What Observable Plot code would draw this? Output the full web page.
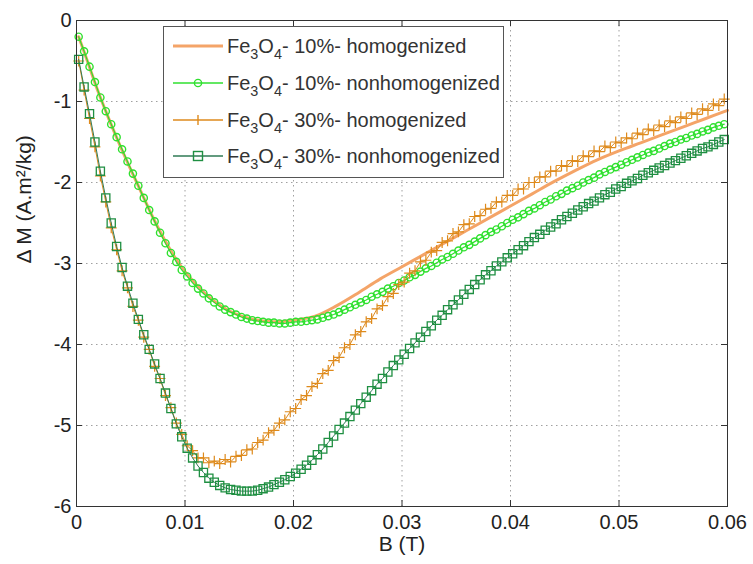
<!DOCTYPE html>
<html><head><meta charset="utf-8">
<script src="https://cdn.jsdelivr.net/npm/d3@7"></script>
<script src="https://cdn.jsdelivr.net/npm/@observablehq/plot@0.6"></script>
<style>
body{margin:0;background:#fff;}
#wrap{position:relative;width:753px;height:564px;font-family:"Liberation Sans",Arial,sans-serif;}
#legend{position:absolute;left:163px;top:26px;width:339px;height:150px;border:1px solid #555;background:#fff;}
.row{position:absolute;left:7px;height:24px;display:flex;align-items:center;}
.row svg{display:block;}
.lab{font-size:20px;color:#333;margin-left:2px;white-space:nowrap;line-height:24px;}
.lab sub{font-size:0.72em;vertical-align:-0.45em;line-height:0;}
</style></head><body><div id="wrap"></div>
<script>
// ---- data ----
const xTicks = [0, 0.01, 0.02, 0.03, 0.04, 0.05, 0.06];
const yTicks = [0, -1, -2, -3, -4, -5, -6];
const xLabel = "B (T)";
const yLabel = "\u0394 M (A.m\u00B2/kg)";
const seriesNames = ["10%- homogenized", "10%- nonhomogenized", "30%- homogenized", "30%- nonhomogenized"];

// sampled field values for the three marker series (0.0002 T + 0.0005 T steps)
const B = d3.range(120).map(i => +(0.0002 + 0.0005 * i).toFixed(4));

// Fe3O4 10% homogenized (line only)
const hom10B = [0.0002,0.001,0.002,0.003,0.004,0.005,0.006,0.007,0.008,0.009,0.010,
  0.012,0.014,0.016,0.018,0.020,0.022,0.024,0.026,0.028,0.030,
  0.032,0.034,0.036,0.038,0.040,0.042,0.044,0.046,0.048,0.050,
  0.052,0.054,0.056,0.058,0.060];
const hom10M = [-0.20,-0.50,-0.88,-1.22,-1.54,-1.84,-2.13,-2.42,-2.68,-2.91,-3.10,
  -3.39,-3.58,-3.68,-3.72,-3.70,-3.65,-3.52,-3.36,-3.19,-3.04,
  -2.89,-2.74,-2.59,-2.44,-2.29,-2.14,-1.99,-1.85,-1.72,-1.61,
  -1.51,-1.41,-1.31,-1.21,-1.11];

// Fe3O4 10% nonhomogenized (circles)
const non10M = [
  -0.20,-0.38,-0.57,-0.76,-0.95,-1.12,-1.28,-1.44,-1.59,-1.74,
  -1.89,-2.04,-2.19,-2.34,-2.48,-2.62,-2.75,-2.87,-2.98,-3.08,
  -3.16,-3.24,-3.31,-3.37,-3.43,-3.48,-3.53,-3.57,-3.60,-3.63,
  -3.66,-3.68,-3.70,-3.71,-3.72,-3.73,-3.73,-3.74,-3.74,-3.73,
  -3.72,-3.72,-3.71,-3.70,-3.69,-3.67,-3.65,-3.63,-3.60,-3.57,
  -3.54,-3.51,-3.48,-3.45,-3.41,-3.38,-3.35,-3.31,-3.28,-3.24,
  -3.21,-3.17,-3.14,-3.10,-3.06,-3.03,-2.99,-2.95,-2.92,-2.88,
  -2.84,-2.80,-2.77,-2.73,-2.69,-2.65,-2.61,-2.58,-2.54,-2.50,
  -2.46,-2.43,-2.39,-2.35,-2.32,-2.28,-2.24,-2.21,-2.17,-2.14,
  -2.10,-2.07,-2.04,-2.00,-1.97,-1.94,-1.90,-1.87,-1.84,-1.81,
  -1.78,-1.75,-1.72,-1.69,-1.66,-1.63,-1.61,-1.58,-1.55,-1.52,
  -1.50,-1.47,-1.45,-1.42,-1.40,-1.37,-1.35,-1.32,-1.30,-1.28];

// Fe3O4 30% homogenized (plus markers, noisy)
const hom30M = [
  -0.50,-0.86,-1.21,-1.56,-1.92,-2.24,-2.56,-2.83,-3.09,-3.30,
  -3.53,-3.70,-3.91,-4.06,-4.27,-4.42,-4.63,-4.78,-4.97,-5.11,
  -5.25,-5.31,-5.40,-5.40,-5.46,-5.44,-5.47,-5.42,-5.45,-5.38,
  -5.37,-5.30,-5.29,-5.21,-5.18,-5.09,-5.06,-4.97,-4.93,-4.83,
  -4.79,-4.68,-4.63,-4.52,-4.48,-4.36,-4.32,-4.20,-4.16,-4.04,
  -4.00,-3.88,-3.84,-3.72,-3.68,-3.56,-3.52,-3.41,-3.37,-3.26,
  -3.23,-3.12,-3.09,-2.98,-2.96,-2.86,-2.84,-2.74,-2.72,-2.63,
  -2.61,-2.52,-2.51,-2.42,-2.41,-2.33,-2.32,-2.24,-2.24,-2.16,
  -2.16,-2.08,-2.08,-2.00,-2.00,-1.93,-1.93,-1.86,-1.86,-1.79,
  -1.80,-1.73,-1.74,-1.67,-1.68,-1.61,-1.62,-1.55,-1.57,-1.50,
  -1.51,-1.45,-1.46,-1.39,-1.41,-1.34,-1.36,-1.29,-1.31,-1.24,
  -1.26,-1.19,-1.21,-1.14,-1.16,-1.09,-1.11,-1.03,-1.05,-0.97];

// Fe3O4 30% nonhomogenized (squares)
const non30M = [
  -0.48,-0.82,-1.15,-1.50,-1.86,-2.19,-2.50,-2.79,-3.05,-3.28,
  -3.49,-3.69,-3.88,-4.06,-4.24,-4.42,-4.60,-4.79,-4.98,-5.14,
  -5.28,-5.40,-5.50,-5.58,-5.65,-5.70,-5.74,-5.77,-5.79,-5.80,
  -5.81,-5.81,-5.81,-5.80,-5.78,-5.76,-5.73,-5.70,-5.67,-5.63,
  -5.59,-5.54,-5.49,-5.43,-5.36,-5.29,-5.21,-5.13,-5.05,-4.97,
  -4.89,-4.81,-4.73,-4.65,-4.57,-4.49,-4.42,-4.34,-4.26,-4.19,
  -4.12,-4.05,-3.98,-3.91,-3.84,-3.77,-3.70,-3.64,-3.57,-3.51,
  -3.45,-3.38,-3.32,-3.26,-3.20,-3.14,-3.09,-3.03,-2.98,-2.93,
  -2.88,-2.83,-2.78,-2.73,-2.68,-2.64,-2.59,-2.55,-2.51,-2.46,
  -2.42,-2.38,-2.34,-2.30,-2.26,-2.23,-2.19,-2.15,-2.12,-2.08,
  -2.05,-2.01,-1.98,-1.95,-1.91,-1.88,-1.85,-1.82,-1.79,-1.76,
  -1.73,-1.70,-1.67,-1.64,-1.61,-1.58,-1.56,-1.53,-1.50,-1.47];

// ---- styles ----
const colors = ["#f4a468", "#2fe02f", "#de8a1c", "#1f8f42"];
const lineColor30non = "#2f7a55";

const W = 753, H = 564, mL = 76, mR = 26, mT = 20, mB = 58;
const innerW = W - mL - mR, innerH = H - mT - mB;
const font = '"Liberation Sans", Arial, sans-serif';

const toRows = (xs, ys) => xs.map((x, i) => ({x, y: ys[i]}));
const hom10 = toRows(hom10B, hom10M);
const non10 = toRows(B, non10M);
const hom30 = toRows(B, hom30M);
const non30 = toRows(B, non30M);

const chart = Plot.plot({
  width: W, height: H,
  marginLeft: mL, marginRight: mR, marginTop: mT, marginBottom: mB,
  style: {fontFamily: font, fontSize: "20px", color: "#222", background: "#fff", overflow: "visible"},
  x: {domain: [0, 0.06]},
  y: {domain: [-6, 0]},
  marks: [
    Plot.ruleX(xTicks.slice(1, -1), {x: d => d, stroke: "#a0a0a0", strokeDasharray: "1.5,3.5"}),
    Plot.ruleY(yTicks.slice(1, -1), {y: d => d, stroke: "#a0a0a0", strokeDasharray: "1.5,3.5"}),
    Plot.tickX(xTicks, {x: d => d, stroke: "#333", insetTop: innerH - 6}),
    Plot.tickX(xTicks, {x: d => d, stroke: "#333", insetBottom: innerH - 6}),
    Plot.tickY(yTicks, {y: d => d, stroke: "#333", insetRight: innerW - 6}),
    Plot.tickY(yTicks, {y: d => d, stroke: "#333", insetLeft: innerW - 6}),
    Plot.axisX({ticks: xTicks, tickSize: 0, tickPadding: 8, tickFormat: d => String(d), label: null, fill: "#222", fontSize: 20}),
    Plot.axisY({ticks: yTicks, tickSize: 0, tickPadding: 5, tickFormat: d => String(d), label: null, fill: "#222", fontSize: 20}),
    Plot.line(hom10, {x: "x", y: "y", stroke: colors[0], strokeWidth: 3, curve: "catmull-rom"}),
    Plot.line(non10, {x: "x", y: "y", stroke: colors[1], strokeWidth: 1.2}),
    Plot.dot(non10, {x: "x", y: "y", symbol: "circle", r: 3.6, stroke: colors[1], fill: "none", strokeWidth: 1.4}),
    Plot.line(hom30, {x: "x", y: "y", stroke: colors[2], strokeWidth: 1}),
    Plot.dot(hom30, {x: "x", y: "y", symbol: "plus", r: 3.6, stroke: colors[2], strokeWidth: 1.2}),
    Plot.line(non30, {x: "x", y: "y", stroke: lineColor30non, strokeWidth: 1}),
    Plot.dot(non30, {x: "x", y: "y", symbol: "square", r: 4.6, stroke: colors[3], fill: "none", strokeWidth: 1.3}),
    Plot.frame({stroke: "#333"}),
    Plot.text([yLabel], {text: d => d, frameAnchor: "left", dx: -52, rotate: -90, fontSize: 21, fill: "#222"}),
    Plot.text([xLabel], {text: d => d, frameAnchor: "bottom", dy: 44, fontSize: 21, fill: "#222"})
  ]
});

const wrap = document.getElementById("wrap");
wrap.appendChild(chart);

// ---- legend (HTML overlay inside the axes box) ----
const legend = document.createElement("div");
legend.id = "legend";
const rowCenters = [19, 56, 93, 129];
const symbolsSvg = [
  `<line x1="2" y1="12" x2="52" y2="12" stroke="${colors[0]}" stroke-width="3"/>`,
  `<line x1="2" y1="12" x2="52" y2="12" stroke="${colors[1]}" stroke-width="1.3"/><circle cx="27" cy="12" r="3.6" fill="none" stroke="${colors[1]}" stroke-width="1.4"/>`,
  `<line x1="2" y1="12" x2="52" y2="12" stroke="${colors[2]}" stroke-width="1.3"/><line x1="27" y1="7" x2="27" y2="17" stroke="${colors[2]}" stroke-width="1.4"/>`,
  `<line x1="2" y1="12" x2="52" y2="12" stroke="${lineColor30non}" stroke-width="1.3"/><rect x="22.5" y="7.5" width="9" height="9" fill="none" stroke="${colors[3]}" stroke-width="1.4"/>`
];
seriesNames.forEach((name, i) => {
  const row = document.createElement("div");
  row.className = "row";
  row.style.top = (rowCenters[i] - 12) + "px";
  row.innerHTML = `<svg width="54" height="24">${symbolsSvg[i]}</svg><span class="lab">Fe<sub>3</sub>O<sub>4</sub>- ${name}</span>`;
  legend.appendChild(row);
});
wrap.appendChild(legend);
</script></body></html>
